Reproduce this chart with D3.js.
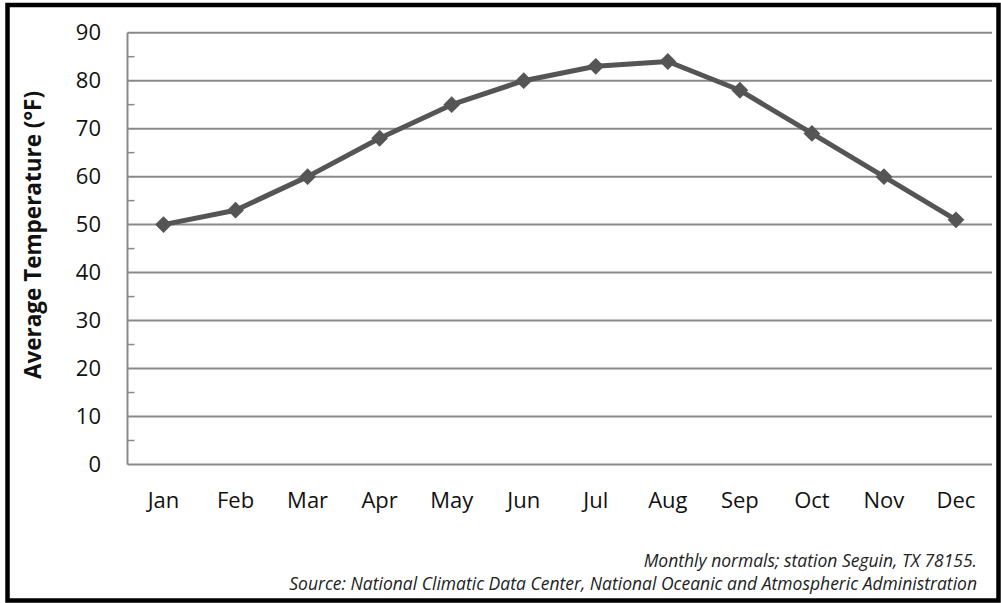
<!DOCTYPE html>
<html><head><meta charset="utf-8">
<script src="https://cdn.jsdelivr.net/npm/d3@7"></script>
<style>body{margin:0;background:#fff;}svg{display:block;}</style>
</head><body>
<svg id="c" width="1001" height="603"></svg>
<script>
const months = ["Jan","Feb","Mar","Apr","May","Jun","Jul","Aug","Sep","Oct","Nov","Dec"];
const temps = [50,53,60,68,75,80,83,84,78,69,60,51];
const yTicks = [0,10,20,30,40,50,60,70,80,90];
const minorTicks = [5,15,25,35,45,55,65,75,85];
const yTitle = "Average Temperature (°F)";
const notes = ["Monthly normals; station Seguin, TX 78155.",
  "Source: National Climatic Data Center, National Oceanic and Atmospheric Administration"];

const svg = d3.select("#c");
const font = "'Open Sans', sans-serif";
const L = 127.5, R = 992, T = 32.7, B = 464.5;
const x = d3.scaleBand().domain(months).range([L, R]);
const y = d3.scaleLinear().domain([0, 90]).range([B, T]);

// border
svg.append("rect").attr("x",7.5).attr("y",5).attr("width",991).attr("height",595.5)
  .attr("fill","none").attr("stroke","#000").attr("stroke-width",4.5);

// gridlines
svg.append("g").selectAll("line").data(yTicks.filter(d=>d>0)).join("line")
  .attr("x1",L).attr("x2",R).attr("y1",d=>y(d)).attr("y2",d=>y(d))
  .attr("stroke","#8a8a8a").attr("stroke-width",2);
// minor ticks
svg.append("g").selectAll("line").data(minorTicks).join("line")
  .attr("x1",L).attr("x2",L+7).attr("y1",d=>y(d)).attr("y2",d=>y(d))
  .attr("stroke","#8a8a8a").attr("stroke-width",1.5);
// axes lines
svg.append("line").attr("x1",L).attr("x2",L).attr("y1",T).attr("y2",B).attr("stroke","#8a8a8a").attr("stroke-width",2);
svg.append("line").attr("x1",L).attr("x2",R).attr("y1",B).attr("y2",B).attr("stroke","#8a8a8a").attr("stroke-width",2);

// y tick labels
svg.append("g").selectAll("text").data(yTicks).join("text")
  .attr("x",101).attr("y",d=>y(d)).attr("dy","0.35em").attr("text-anchor","end")
  .attr("font-family",font).attr("font-size",22).attr("fill","#111").text(d=>d);
// x labels
svg.append("g").selectAll("text").data(months).join("text")
  .attr("x",d=>x(d)+x.bandwidth()/2).attr("y",508).attr("text-anchor","middle")
  .attr("font-family",font).attr("font-size",22).attr("fill","#111").text(d=>d);
// y title
svg.append("text").attr("transform","translate(41,235) rotate(-90)").attr("text-anchor","middle")
  .attr("font-family",font).attr("font-size",22.5).attr("font-weight","bold").attr("fill","#111").text(yTitle);

// line
const line = d3.line().x((d,i)=>x(months[i])+x.bandwidth()/2).y(d=>y(d));
svg.append("path").datum(temps).attr("d",line).attr("fill","none")
  .attr("stroke","#555").attr("stroke-width",5).attr("stroke-linejoin","round");
svg.append("g").selectAll("path").data(temps).join("path")
  .attr("d",d3.symbol(d3.symbolDiamond2, 180))
  .attr("transform",(d,i)=>`translate(${x(months[i])+x.bandwidth()/2},${y(d)})`)
  .attr("fill","#555");

// notes
svg.append("g").selectAll("text").data(notes).join("text")
  .attr("x",977).attr("y",(d,i)=>567+i*23).attr("text-anchor","end")
  .attr("font-family",font).attr("font-size",17.5).attr("font-style","italic").attr("fill","#222").text(d=>d);
</script>
</body></html>
